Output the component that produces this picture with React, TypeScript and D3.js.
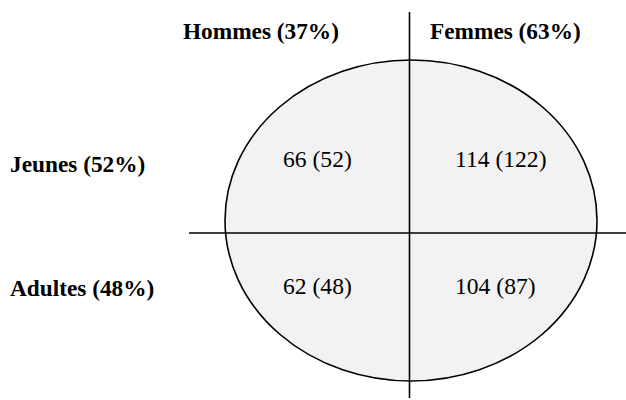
import React from "react";
import * as d3 from "d3";

const sexes = ["Hommes", "Femmes"];
const sexShares = [37, 63];
const ages = ["Jeunes", "Adultes"];
const ageShares = [52, 48];
// counts[age][sex], with the bracketed value
const counts = [
  [66, 114],
  [62, 104],
];
const bracketed = [
  [52, 122],
  [48, 87],
];

const W = 626;
const H = 400;

export default function App() {
  const cx = 411;
  const cy = 220.5;
  const rx = 186;
  const ry = 160.5;
  const vx = 409.5;
  const hy = 233;

  const colX = d3.scaleOrdinal<string, number>().domain(sexes).range([183, 430]);
  const cellX = d3.scaleOrdinal<string, number>().domain(sexes).range([283, 455]);
  const rowY = d3.scaleOrdinal<string, number>().domain(ages).range([172, 296]);
  const cellY = d3.scaleOrdinal<string, number>().domain(ages).range([167, 294]);

  const font = "'Liberation Serif', 'Times New Roman', serif";

  return (
    <svg
      width={W}
      height={H}
      style={{ position: "absolute", left: 0, top: 0 }}
      fontFamily={font}
    >
      <rect width={W} height={H} fill="#fff" />
      <ellipse cx={cx} cy={cy} rx={rx} ry={ry} fill="#f2f2f2" stroke="#000" strokeWidth={1.6} />
      <line x1={vx} x2={vx} y1={12} y2={398} stroke="#000" strokeWidth={1.6} />
      <line x1={189} x2={626} y1={hy} y2={hy} stroke="#000" strokeWidth={1.6} />
      {sexes.map((s, i) => (
        <text key={s} x={colX(s)} y={39} fontSize={23.3} fontWeight="bold">
          {`${s} (${sexShares[i]}%)`}
        </text>
      ))}
      {ages.map((a, i) => (
        <text key={a} x={10} y={rowY(a)} fontSize={23.3} fontWeight="bold">
          {`${a} (${ageShares[i]}%)`}
        </text>
      ))}
      {ages.map((a, i) =>
        sexes.map((s, j) => (
          <text key={a + s} x={cellX(s)} y={cellY(a)} fontSize={23.6}>
            {`${counts[i][j]} (${bracketed[i][j]})`}
          </text>
        ))
      )}
    </svg>
  );
}
